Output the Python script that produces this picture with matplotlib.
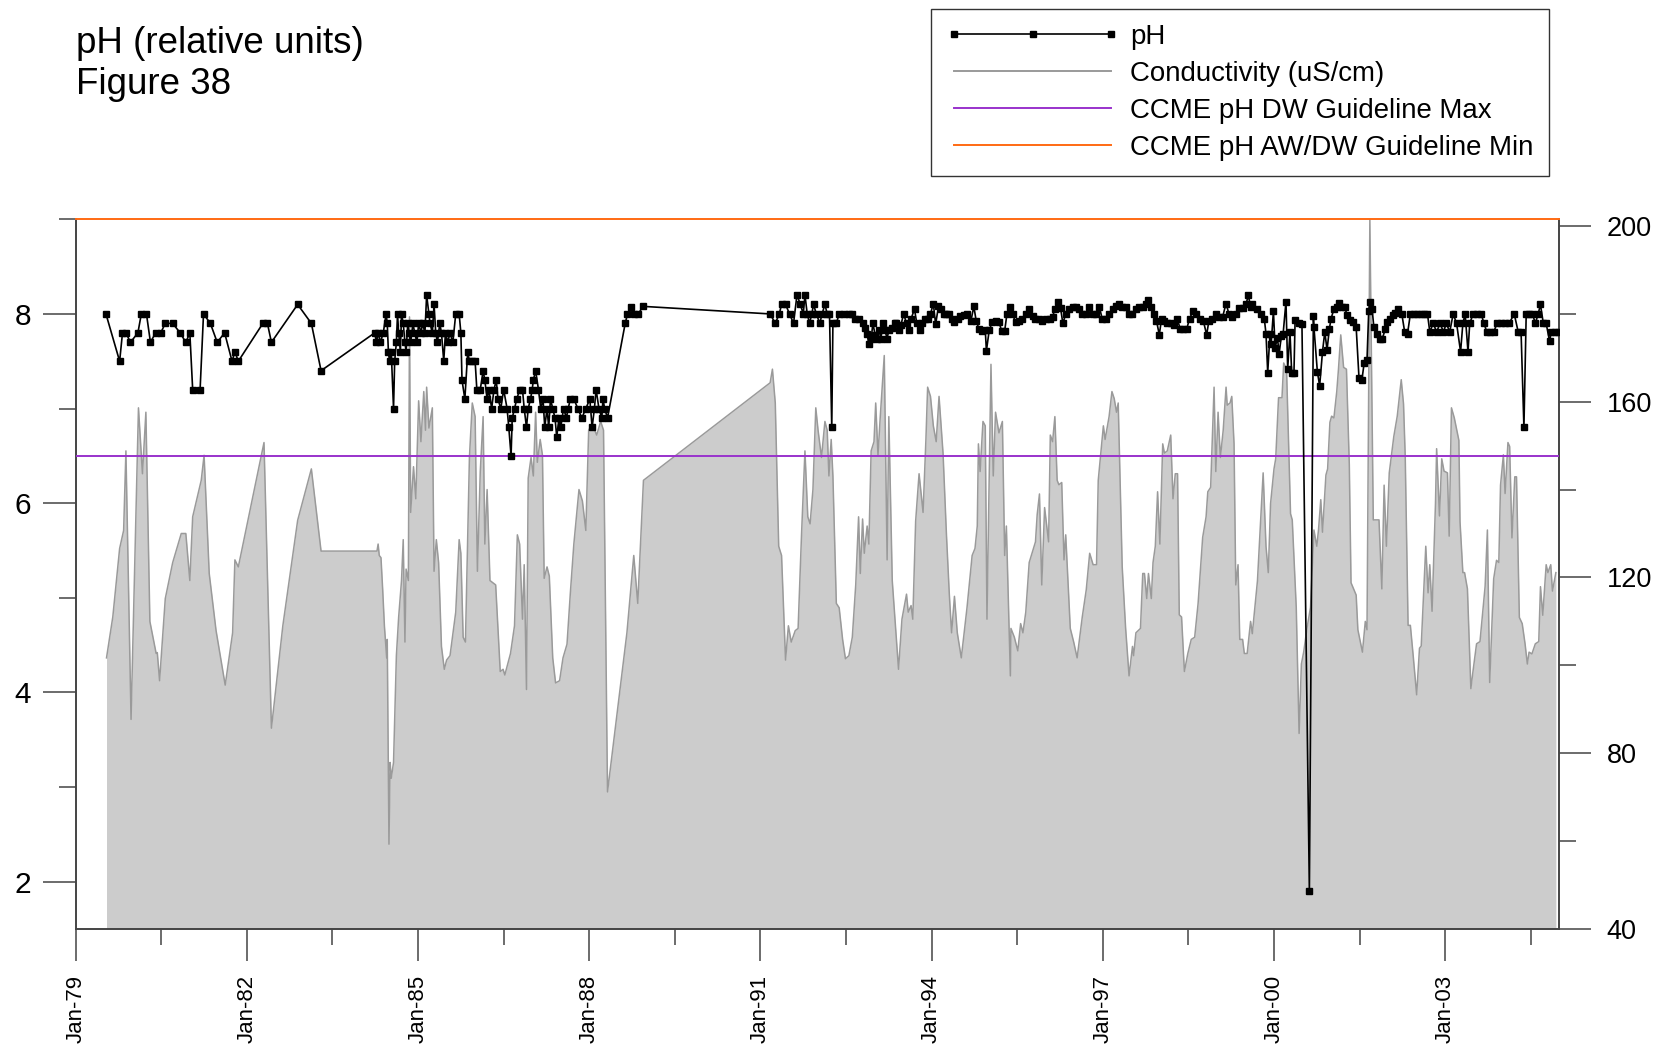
import matplotlib
matplotlib.use("Agg")
import matplotlib.pyplot as plt
from matplotlib.lines import Line2D

plt.rcParams['font.family'] = ['Liberation Sans', 'DejaVu Sans']

# ---------------- data ----------------
ph_year = [
    1979.53, 1979.77, 1979.82, 1979.88, 1979.96, 1980.09, 1980.15, 1980.24, 1980.31, 1980.40,
    1980.49, 1980.57, 1980.70, 1980.83, 1980.93, 1981.00, 1981.05, 1981.18, 1981.24, 1981.36,
    1981.48, 1981.61, 1981.74, 1981.79, 1981.85, 1982.28, 1982.36, 1982.43, 1982.89, 1983.13,
    1983.30, 1984.24,
    1984.27, 1984.30, 1984.34, 1984.39, 1984.44, 1984.46, 1984.48, 1984.50, 1984.53, 1984.57,
    1984.59, 1984.62, 1984.64, 1984.66, 1984.69, 1984.71, 1984.74, 1984.77, 1984.79, 1984.82,
    1984.84, 1984.87, 1984.91, 1984.94, 1984.98, 1985.01, 1985.05, 1985.08, 1985.12, 1985.15,
    1985.19, 1985.21, 1985.25, 1985.28, 1985.31, 1985.34, 1985.38, 1985.41, 1985.45, 1985.48,
    1985.52, 1985.56, 1985.61, 1985.66, 1985.72, 1985.75, 1985.77, 1985.82, 1985.87, 1985.90,
    1985.95, 1986.00, 1986.03, 1986.09, 1986.14, 1986.17, 1986.21, 1986.24, 1986.29, 1986.33,
    1986.37, 1986.40, 1986.45, 1986.50, 1986.56, 1986.59, 1986.63, 1986.65, 1986.69, 1986.73,
    1986.78, 1986.83, 1986.86, 1986.90, 1986.93, 1986.97, 1987.00, 1987.02, 1987.06, 1987.11,
    1987.15, 1987.19, 1987.22, 1987.26, 1987.29, 1987.32, 1987.36, 1987.40, 1987.43, 1987.47,
    1987.50, 1987.55, 1987.60, 1987.63, 1987.67, 1987.73, 1987.80, 1987.87, 1987.94, 1988.01,
    1988.05, 1988.09, 1988.12, 1988.17, 1988.22, 1988.24, 1988.27, 1988.32, 1988.63, 1988.67,
    1988.73, 1988.78, 1988.86, 1988.94,
    1991.17, 1991.26, 1991.33, 1991.37, 1991.44, 1991.51, 1991.58, 1991.64, 1991.70, 1991.75,
    1991.78, 1991.82, 1991.86, 1991.90, 1991.93, 1991.98, 1992.04, 1992.08, 1992.13, 1992.17,
    1992.21, 1992.25, 1992.27, 1992.33, 1992.38, 1992.46, 1992.55, 1992.61, 1992.66, 1992.73,
    1992.79, 1992.83, 1992.87, 1992.90, 1992.94, 1992.97, 1993.01, 1993.04, 1993.08, 1993.11,
    1993.15, 1993.18, 1993.22, 1993.25, 1993.30, 1993.35, 1993.38, 1993.43, 1993.46, 1993.51,
    1993.56, 1993.60, 1993.64, 1993.70, 1993.74, 1993.79, 1993.84, 1993.89, 1993.93, 1993.98,
    1994.03, 1994.07, 1994.12, 1994.17, 1994.21, 1994.26, 1994.31, 1994.35, 1994.40, 1994.46,
    1994.50,
    1994.56, 1994.62, 1994.69, 1994.74, 1994.78, 1994.83, 1994.89, 1994.94, 1994.96, 1995.01,
    1995.06, 1995.12, 1995.18, 1995.23, 1995.28, 1995.32, 1995.37, 1995.42, 1995.47, 1995.53,
    1995.59, 1995.65, 1995.71, 1995.77, 1995.82, 1995.88, 1995.94, 1996.00, 1996.07, 1996.12,
    1996.16, 1996.21, 1996.26, 1996.30, 1996.35, 1996.41, 1996.47, 1996.53, 1996.58, 1996.64,
    1996.70, 1996.76, 1996.82, 1996.88, 1996.94, 1996.99, 1997.05, 1997.11, 1997.17, 1997.23,
    1997.29, 1997.34, 1997.40, 1997.46, 1997.52, 1997.58, 1997.64, 1997.70, 1997.75, 1997.80,
    1997.85, 1997.89, 1997.94, 1997.99, 1998.03, 1998.08, 1998.13, 1998.19, 1998.24, 1998.30,
    1998.36, 1998.41, 1998.47, 1998.52, 1998.58, 1998.64, 1998.70, 1998.76, 1998.82, 1998.86,
    1998.92, 1998.98, 1999.04, 1999.10, 1999.16, 1999.21, 1999.27, 1999.33, 1999.39, 1999.45,
    1999.51, 1999.55, 1999.59,
    1999.62, 1999.70, 1999.78, 1999.83, 1999.86, 1999.89, 1999.93, 1999.95, 1999.99, 2000.02,
    2000.06, 2000.09, 2000.13, 2000.16, 2000.21, 2000.24, 2000.28, 2000.31, 2000.35, 2000.37,
    2000.43, 2000.49, 2000.62, 2000.69, 2000.70, 2000.76, 2000.80, 2000.85, 2000.89, 2000.93,
    2000.97, 2001.00, 2001.05, 2001.10, 2001.14, 2001.19, 2001.24, 2001.28, 2001.33, 2001.38,
    2001.44, 2001.49, 2001.54, 2001.58, 2001.63, 2001.66, 2001.68, 2001.72, 2001.75, 2001.81,
    2001.86, 2001.90, 2001.95, 2001.98, 2002.03, 2002.08, 2002.12, 2002.18, 2002.24, 2002.29,
    2002.34, 2002.39, 2002.45, 2002.51, 2002.57, 2002.63, 2002.69, 2002.73, 2002.79, 2002.85,
    2002.91, 2002.97, 2003.02, 2003.08, 2003.14, 2003.20, 2003.27, 2003.31, 2003.35, 2003.40,
    2003.43, 2003.49, 2003.56, 2003.63, 2003.68, 2003.73, 2003.78, 2003.85, 2003.91, 2003.98,
    2004.05, 2004.12, 2004.21, 2004.28, 2004.33, 2004.38, 2004.42, 2004.47, 2004.53, 2004.58,
    2004.63, 2004.67, 2004.72, 2004.77, 2004.83, 2004.86, 2004.92, 2004.98,
]
ph_value = [
    8.0, 7.5, 7.8, 7.8, 7.7, 7.8, 8.0, 8.0, 7.7, 7.8,
    7.8, 7.9, 7.9, 7.8, 7.7, 7.8, 7.2, 7.2, 8.0, 7.9,
    7.7, 7.8, 7.5, 7.6, 7.5, 7.9, 7.9, 7.7, 8.1, 7.9,
    7.4, 7.8,
    7.7, 7.8, 7.7, 7.8, 8.0, 7.9, 7.6, 7.5, 7.6, 7.0,
    7.5, 7.7, 8.0, 7.8, 7.6, 8.0, 7.9, 7.7, 7.6, 7.9,
    7.8, 7.7, 7.9, 7.8, 7.7, 7.9, 7.8, 7.9, 7.8, 8.2,
    8.0, 7.9, 7.8, 8.1, 7.8, 7.7, 7.9, 7.8, 7.5, 7.8,
    7.7, 7.8, 7.7, 8.0, 8.0, 7.8, 7.3, 7.1, 7.6, 7.5,
    7.5, 7.5, 7.2, 7.2, 7.4, 7.3, 7.1, 7.2, 7.0, 7.2,
    7.3, 7.1, 7.0, 7.2, 7.0, 6.8, 6.5, 6.9, 7.0, 7.1,
    7.2, 7.2, 7.0, 6.8, 7.0, 7.1, 7.2, 7.3, 7.4, 7.2,
    7.0, 7.1, 6.8, 7.0, 6.8, 7.1, 7.0, 6.9, 6.7, 6.9,
    6.8, 7.0, 6.9, 7.0, 7.1, 7.1, 7.0, 6.9, 7.0, 7.1,
    6.8, 7.0, 7.2, 7.0, 6.9, 7.1, 7.0, 6.9, 7.9, 8.0,
    8.07, 8.0, 8.0, 8.08,
    8.0, 7.9, 8.0, 8.1, 8.1, 8.0, 7.9, 8.2, 8.1, 8.0,
    8.2, 8.0, 7.9, 8.0, 8.1, 8.0, 7.9, 8.0, 8.1, 8.0,
    8.0, 6.8, 7.9, 7.9, 8.0, 8.0, 8.0, 8.0, 7.95, 7.95,
    7.9, 7.85, 7.79, 7.68, 7.73, 7.9, 7.78, 7.74, 7.83, 7.74,
    7.9, 7.83, 7.74, 7.83, 7.85, 7.9, 7.9, 7.83, 7.88, 8.0,
    7.9, 7.83, 7.95, 8.05, 7.9, 7.83, 7.9, 7.95, 7.95, 8.0,
    8.11, 7.89, 8.08, 8.05, 8.0, 8.0, 8.0, 7.95, 7.91, 7.95,
    7.98,
    7.99, 8.0, 7.93, 8.08, 7.93, 7.84, 7.82, 7.83, 7.61, 7.83,
    7.91, 7.93, 7.91, 7.82, 7.82, 8.0, 8.07, 8.0, 7.91, 7.93,
    7.95, 8.0, 8.05, 7.98, 7.95, 7.95, 7.93, 7.95, 7.95, 7.97,
    8.05, 8.13, 8.06, 7.9, 8.0, 8.05, 8.07, 8.07, 8.05, 8.0,
    8.0, 8.07, 8.0, 8.0, 8.07, 7.95, 7.95, 8.0, 8.05, 8.08,
    8.11, 8.07, 8.07, 8.0, 8.0, 8.05, 8.07, 8.07, 8.1, 8.15,
    8.07, 8.0, 7.93, 7.78, 7.95, 7.93, 7.9, 7.9, 7.88, 7.95,
    7.84, 7.84, 7.84, 7.95, 8.03, 8.0, 7.95, 7.93, 7.78, 7.93,
    7.95, 8.0, 7.97, 7.97, 8.11, 8.0, 7.97, 8.0, 8.06, 8.06,
    8.1, 8.2, 8.07,
    8.1, 8.05, 8.0, 7.95, 7.79, 7.38, 7.79, 7.68, 8.03, 7.64,
    7.75, 7.58, 7.77, 7.79, 8.13, 7.42, 7.81, 7.38, 7.38, 7.94,
    7.9, 7.89, 1.9, 7.98, 7.86, 7.39, 7.24, 7.6, 7.81, 7.62,
    7.84, 7.95, 8.05, 8.07, 8.12, 8.07, 8.07, 7.99, 7.94, 7.91,
    7.86, 7.32, 7.3, 7.48, 7.51, 8.03, 8.13, 8.05, 7.86, 7.79,
    7.73, 7.74, 7.84, 7.91, 7.95, 7.99, 8.01, 8.05, 8.0, 7.81,
    7.79, 8.0, 8.0, 8.0, 8.0, 8.0, 8.0, 7.81, 7.9, 7.81,
    7.9, 7.81, 7.9, 7.81, 8.0, 7.9, 7.6, 7.9, 8.0, 7.6,
    7.9, 8.0, 8.0, 8.0, 7.9, 7.81, 7.81, 7.81, 7.9, 7.9,
    7.9, 7.9, 8.0, 7.81, 7.81, 6.8, 8.0, 8.0, 8.0, 7.9,
    8.0, 8.1, 7.9, 7.9, 7.71, 7.81, 7.81, 7.81,
]

cond_year = [
    1979.54, 1979.65, 1979.77, 1979.84, 1979.88, 1979.97, 1980.10, 1980.17, 1980.23, 1980.30,
    1980.41, 1980.43, 1980.47, 1980.57, 1980.70, 1980.85, 1980.93, 1981.00, 1981.05, 1981.20,
    1981.25, 1981.34, 1981.46, 1981.62, 1981.75, 1981.79, 1981.85, 1982.30, 1982.43, 1982.63,
    1982.89, 1983.13, 1983.30, 1984.28,
    1984.30, 1984.32, 1984.35, 1984.38, 1984.41, 1984.43, 1984.45, 1984.46, 1984.49, 1984.51,
    1984.53, 1984.57, 1984.62, 1984.66, 1984.71, 1984.74, 1984.77, 1984.79, 1984.83, 1984.85,
    1984.87, 1984.92, 1984.96, 1985.01, 1985.05, 1985.10, 1985.13, 1985.15, 1985.19, 1985.25,
    1985.28, 1985.32, 1985.36, 1985.41, 1985.46, 1985.50, 1985.56, 1985.66, 1985.72, 1985.75,
    1985.79, 1985.83, 1985.90, 1985.95, 1986.00, 1986.04, 1986.09, 1986.14, 1986.17, 1986.21,
    1986.26, 1986.36, 1986.44, 1986.49, 1986.52, 1986.62, 1986.69, 1986.74, 1986.78, 1986.83,
    1986.86, 1986.90, 1986.93, 1986.98, 1987.02, 1987.06, 1987.09, 1987.14, 1987.18, 1987.21,
    1987.26, 1987.30, 1987.36, 1987.41, 1987.48, 1987.54, 1987.61, 1987.67, 1987.73, 1987.82,
    1987.88, 1987.94, 1987.99, 1988.05, 1988.13, 1988.20, 1988.25, 1988.32, 1988.66, 1988.78,
    1988.85, 1988.95,
    1991.17, 1991.21, 1991.26, 1991.32, 1991.37, 1991.44, 1991.49, 1991.54, 1991.61, 1991.66,
    1991.72, 1991.78, 1991.83, 1991.87, 1991.92, 1991.97, 1992.01, 1992.07, 1992.13, 1992.17,
    1992.20, 1992.24, 1992.27, 1992.33, 1992.38, 1992.44, 1992.49, 1992.55, 1992.61, 1992.67,
    1992.72, 1992.75, 1992.79, 1992.82, 1992.87, 1992.90, 1992.94, 1992.99, 1993.02, 1993.06,
    1993.10, 1993.17, 1993.22, 1993.25, 1993.31, 1993.36, 1993.42, 1993.48, 1993.56, 1993.59,
    1993.64, 1993.67, 1993.72, 1993.78, 1993.85, 1993.90, 1993.93, 1993.98, 1994.03, 1994.08,
    1994.13, 1994.20, 1994.26, 1994.31, 1994.35, 1994.40, 1994.45,
    1994.52, 1994.62, 1994.71, 1994.76, 1994.80, 1994.82, 1994.85, 1994.90, 1994.94, 1994.97,
    1995.04, 1995.08, 1995.12, 1995.18, 1995.24, 1995.28, 1995.31, 1995.38, 1995.39, 1995.45,
    1995.51, 1995.56, 1995.60, 1995.65, 1995.71, 1995.77, 1995.82, 1995.85, 1995.89, 1995.93,
    1995.98, 1996.05, 1996.08, 1996.12, 1996.16, 1996.20, 1996.23, 1996.28, 1996.32, 1996.35,
    1996.43, 1996.49, 1996.55, 1996.64, 1996.71, 1996.77, 1996.83, 1996.89, 1996.92, 1997.01,
    1997.04, 1997.11, 1997.16, 1997.20, 1997.24, 1997.27, 1997.34, 1997.40, 1997.46, 1997.52,
    1997.54, 1997.58, 1997.66, 1997.70, 1997.73, 1997.77, 1997.80, 1997.85, 1997.88, 1997.92,
    1997.96, 1998.00, 1998.05, 1998.08, 1998.13, 1998.19, 1998.23, 1998.27, 1998.31, 1998.34,
    1998.38, 1998.43, 1998.49, 1998.55, 1998.61, 1998.67, 1998.75, 1998.81, 1998.84, 1998.89,
    1998.95, 1998.98, 1999.02, 1999.06, 1999.11, 1999.16, 1999.18, 1999.23, 1999.26, 1999.30,
    1999.33, 1999.37, 1999.40, 1999.45, 1999.48, 1999.53, 1999.59,
    1999.62, 1999.71, 1999.81, 1999.86, 1999.90, 1999.94, 2000.00, 2000.03, 2000.08, 2000.14,
    2000.17, 2000.22, 2000.29, 2000.32, 2000.39, 2000.44, 2000.48, 2000.52, 2000.58, 2000.64,
    2000.70, 2000.75, 2000.78, 2000.82, 2000.85, 2000.91, 2000.94, 2000.98, 2001.01, 2001.05,
    2001.10, 2001.13, 2001.17, 2001.22, 2001.27, 2001.32, 2001.35, 2001.44, 2001.47, 2001.55,
    2001.60, 2001.63, 2001.68, 2001.74, 2001.84, 2001.89, 2001.93, 2001.97, 2002.02, 2002.10,
    2002.16, 2002.23, 2002.27, 2002.30, 2002.35, 2002.39, 2002.44, 2002.50, 2002.55, 2002.58,
    2002.66, 2002.70, 2002.73, 2002.77, 2002.83, 2002.85, 2002.90, 2002.94, 2002.98, 2003.04,
    2003.07, 2003.11, 2003.16, 2003.24, 2003.26, 2003.31, 2003.34, 2003.39, 2003.45, 2003.49,
    2003.55, 2003.61, 2003.66, 2003.70, 2003.74, 2003.78, 2003.85, 2003.90, 2003.94, 2003.97,
    2004.02, 2004.05, 2004.10, 2004.13, 2004.17, 2004.22, 2004.25, 2004.30, 2004.35, 2004.40,
    2004.44, 2004.47, 2004.52, 2004.58, 2004.64, 2004.67, 2004.71, 2004.77, 2004.80, 2004.85,
    2004.88, 2004.94,
]
cond_value = [
    101.7, 111.0, 126.6, 130.7, 148.8, 87.7, 158.6, 143.6, 157.6, 110.0,
    102.7, 102.9, 96.5, 115.2, 123.4, 130.0, 130.0, 119.3, 133.8, 142.1,
    147.8, 120.9, 107.9, 95.5, 107.4, 124.0, 122.4, 150.7, 85.7, 109.0,
    133.0, 144.7, 126.0, 126.0,
    127.6, 125.0, 124.5, 117.2, 109.0, 105.3, 101.7, 105.9, 59.3, 77.9,
    74.3, 77.9, 102.2, 111.0, 119.3, 128.6, 105.3, 121.9, 119.3, 179.3,
    134.8, 145.2, 137.9, 160.2, 150.9, 162.3, 153.5, 163.3, 154.0, 158.6,
    121.4, 128.6, 123.4, 104.3, 99.1, 101.2, 102.2, 112.1, 128.6, 125.5,
    106.4, 105.3, 147.3, 159.7, 156.6, 121.4, 144.1, 156.6, 127.6, 140.0,
    119.3, 118.3, 98.6, 99.1, 97.8, 102.7, 109.0, 129.7, 127.6, 110.5,
    122.9, 94.5, 142.6, 147.3, 143.1, 157.6, 146.2, 151.4, 147.8, 119.8,
    122.4, 120.3, 101.7, 96.0, 96.5, 101.7, 104.8, 116.7, 127.6, 140.0,
    137.4, 130.7, 153.5, 155.0, 152.4, 155.5, 153.5, 71.2, 107.4, 125.0,
    114.1, 142.1,
    164.3, 167.4, 159.7, 127.1, 125.0, 101.2, 109.0, 105.3, 107.9, 108.4,
    129.7, 148.8, 133.8, 132.2, 140.0, 158.6, 153.5, 147.3, 155.5, 153.5,
    143.1, 151.4, 143.1, 114.1, 113.1, 105.9, 101.5, 102.2, 106.4, 118.3,
    133.8, 120.9, 133.3, 125.5, 131.7, 127.6, 148.8, 150.9, 159.7, 147.8,
    156.6, 170.5, 124.0, 156.6, 119.3, 110.0, 99.1, 110.5, 116.2, 112.1,
    113.6, 110.5, 132.8, 143.6, 134.8, 151.4, 163.3, 161.2, 154.5, 150.9,
    161.2, 148.3, 129.7, 116.2, 107.4, 115.7, 107.4,
    101.7, 113.1, 125.0, 126.6, 131.7, 150.4, 144.1, 155.5, 154.5, 110.5,
    168.5, 143.1, 157.6, 152.9, 155.5, 125.0, 131.7, 97.6, 108.4, 106.4,
    103.3, 109.5, 107.4, 112.1, 123.4, 126.0, 128.1, 134.3, 139.0, 118.3,
    135.9, 128.1, 152.4, 150.9, 156.6, 142.1, 141.1, 141.6, 124.0, 129.7,
    108.4, 105.3, 101.7, 111.0, 117.2, 125.5, 122.9, 122.9, 142.1, 154.5,
    151.4, 156.6, 162.3, 160.7, 157.6, 159.7, 122.4, 108.4, 97.6, 104.3,
    102.2, 107.4, 108.4, 120.9, 120.9, 115.2, 120.9, 115.2, 123.4, 127.1,
    139.5, 127.6, 150.4, 148.3, 148.8, 152.4, 137.9, 143.6, 143.6, 111.5,
    111.0, 98.6, 102.7, 105.9, 106.4, 114.1, 129.1, 133.8, 139.5, 140.5,
    163.3, 144.1, 157.6, 147.3, 153.5, 163.3, 159.2, 159.7, 161.2, 150.4,
    118.3, 122.9, 105.9, 105.9, 102.7, 102.7, 110.0,
    107.2, 119.2, 143.8, 127.1, 121.1, 136.8, 144.7, 147.0, 160.9, 160.9,
    168.8, 167.4, 134.5, 133.1, 113.2, 84.5, 100.3, 103.0, 108.6, 113.2,
    130.8, 127.1, 130.8, 137.7, 130.3, 143.3, 144.7, 155.3, 156.7, 156.3,
    162.3, 167.4, 175.2, 167.8, 167.4, 145.6, 118.8, 116.0, 108.1, 103.0,
    110.0, 108.1, 201.5, 133.1, 133.1, 117.4, 141.0, 127.1, 143.8, 152.1,
    156.7, 165.0, 159.5, 147.5, 109.1, 109.1, 102.1, 93.3, 103.9, 104.4,
    127.1, 116.5, 122.9, 112.3, 136.8, 149.3, 134.0, 147.0, 144.2, 143.8,
    129.4, 158.6, 156.3, 151.2, 132.7, 121.1, 121.1, 117.4, 94.7, 98.9,
    104.9, 105.4, 112.3, 118.0, 130.8, 96.1, 119.7, 123.9, 123.4, 141.0,
    147.9, 139.1, 150.7, 149.8, 129.0, 142.9, 142.9, 110.9, 109.5, 104.9,
    100.3, 103.0, 102.6, 104.9, 105.4, 117.9, 111.4, 122.9, 121.1, 122.9,
    116.9, 121.1,
]

tick_years = [1979, 1982, 1985, 1988, 1991, 1994, 1997, 2000, 2003]
tick_labels = ["Jan-79", "Jan-82", "Jan-85", "Jan-88", "Jan-91",
               "Jan-94", "Jan-97", "Jan-00", "Jan-03"]
minor_years = [1980.5, 1983.5, 1986.5, 1989.5, 1992.5, 1995.5, 1998.5, 2001.5, 2004.5]
ph_ticks = [2, 4, 6, 8]
ph_minor = [3, 5, 7, 9]
cond_ticks = [40, 80, 120, 160, 200]
cond_minor = [60, 100, 140, 180]
guideline_dw_max = 6.5
guideline_awdw_min = 9.0

legend_labels = ["pH", "Conductivity (uS/cm)", "CCME pH DW Guideline Max",
                 "CCME pH AW/DW Guideline Min"]

# ---------------- style ----------------
C_FILL = '#cccccc'
C_LINE = '#9a9a9a'
C_PURPLE = '#9932cc'
C_ORANGE = '#ff6a13'
SPINE = '#444444'

W, H = 1659, 1045
fig = plt.figure(figsize=(W / 100, H / 100), dpi=100)
x0, x1, y0, y1 = 75.7, 1559.3, 219.3, 929.0
axC = fig.add_axes([x0 / W, 1 - y1 / H, (x1 - x0) / W, (y1 - y0) / H])
axP = axC.twinx()

# conductivity (right axis, drawn underneath)
axC.fill_between(cond_year, 40, cond_value, color=C_FILL, lw=0, zorder=1)
axC.plot(cond_year, cond_value, color=C_LINE, lw=1.1, zorder=2)
axC.set_ylim(40, 201.5)
axC.set_xlim(1979, 2005)
axC.yaxis.tick_right()
axC.set_yticks(cond_ticks)
axC.set_yticks(cond_minor, minor=True)
axC.set_yticklabels([str(v) for v in cond_ticks])
axC.set_xticks(tick_years)
axC.set_xticks(minor_years, minor=True)
axC.set_xticklabels(tick_labels, rotation=90)

# pH (left axis, drawn on top)
axP.yaxis.tick_left()
axP.set_ylim(1.5, 9.0)
axP.set_yticks(ph_ticks)
axP.set_yticks(ph_minor, minor=True)
axP.set_yticklabels([str(v) for v in ph_ticks])
axP.axhline(guideline_dw_max, color=C_PURPLE, lw=1.4, zorder=3)
axP.axhline(guideline_awdw_min, color=C_ORANGE, lw=1.4, zorder=3, clip_on=False)
axP.plot(ph_year, ph_value, color='black', lw=1.2, marker='s', ms=5,
         mfc='black', mec='black', zorder=4)

for ax in (axC, axP):
    ax.spines['top'].set_visible(False)
    for s in ('left', 'right', 'bottom'):
        ax.spines[s].set_color(SPINE)
        ax.spines[s].set_linewidth(1.2)

axC.tick_params(axis='x', which='major', direction='out', length=23, width=1.1,
                color=SPINE, pad=10, labelsize=16)
axC.tick_params(axis='x', which='minor', direction='out', length=11.5, width=1.1,
                color=SPINE)
axC.tick_params(axis='y', which='major', direction='out', length=23, width=1.1,
                color=SPINE, pad=11, labelsize=19.5)
axC.tick_params(axis='y', which='minor', direction='out', length=12, width=1.1,
                color=SPINE)
axP.tick_params(axis='y', which='major', direction='out', length=24, width=1.1,
                color=SPINE, pad=8, labelsize=21.5)
axP.tick_params(axis='y', which='minor', direction='out', length=12, width=1.1,
                color=SPINE)

# titles
fig.text(76 / W, 1 - 43.5 / H, "pH (relative units)", fontsize=26.5, va='center', ha='left')
fig.text(76 / W, 1 - 84 / H, "Figure 38", fontsize=26.5, va='center', ha='left')

# legend
handles = [
    Line2D([], [], color='black', lw=1.2, marker='s', ms=5, mfc='black', mec='black'),
    Line2D([], [], color=C_LINE, lw=1.4),
    Line2D([], [], color=C_PURPLE, lw=1.4),
    Line2D([], [], color=C_ORANGE, lw=1.4),
]
leg = fig.legend(handles, legend_labels, loc='upper left',
                 bbox_to_anchor=(931 / W, 1 - 8.5 / H), borderaxespad=0,
                 fontsize=19.9, numpoints=3, handlelength=6.25, handletextpad=0.4,
                 borderpad=0.55, labelspacing=0.4, frameon=True, fancybox=False,
                 edgecolor='#333333', framealpha=1)
leg.get_frame().set_linewidth(1.0)

fig.savefig('out.png', dpi=100)
